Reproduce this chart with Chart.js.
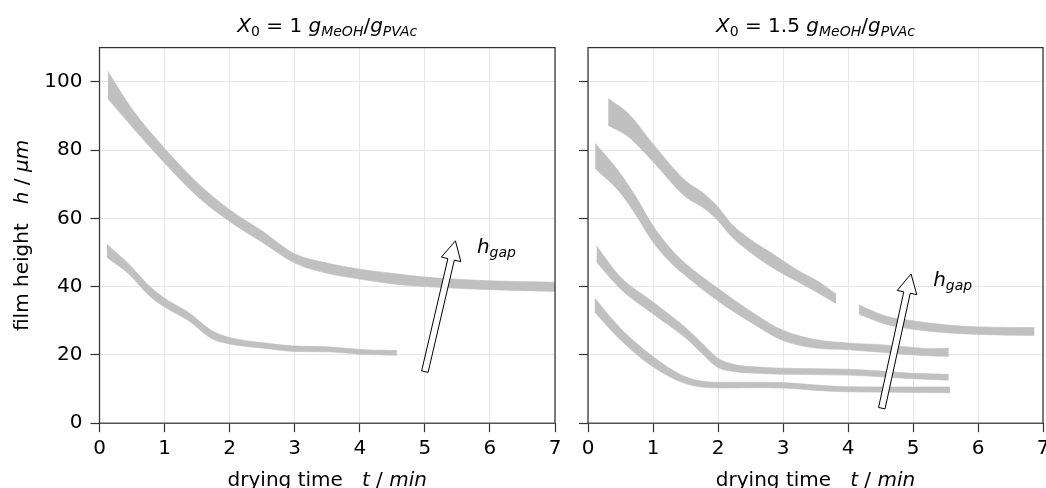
<!DOCTYPE html>
<html>
<head>
<meta charset="utf-8">
<script src="https://cdn.jsdelivr.net/npm/chart.js@4.4.1/dist/chart.umd.min.js"></script>
<style>
  html, body { margin: 0; padding: 0; background: #fff; overflow: hidden; }
  #wrap { position: relative; width: 1046px; height: 488px; overflow: hidden; }
  .panel { position: absolute; top: 0; }
  #left { left: 0; }
  #right { left: 570px; }
</style>
</head>
<body>
<div id="wrap">
  <div class="panel" id="left"><canvas id="c1" width="570" height="488"></canvas></div>
  <div class="panel" id="right"><canvas id="c2" width="490" height="488"></canvas></div>
</div>
<script>
// X0 = 1 gMeOH/gPVAc : two gap heights
const tLow1 = [0.11, 0.45, 0.76, 1.0, 1.37, 1.73, 2.0, 2.5, 3.0, 3.5, 4.0, 4.57];
const hLow1Top = [52.5, 46.6, 40.3, 36.6, 32.4, 27.1, 25.1, 23.6, 22.6, 22.4, 21.6, 21.3];
const hLow1Bot = [48.6, 43.7, 37.4, 34.0, 30.0, 24.7, 23.2, 22.0, 21.0, 20.9, 20.2, 19.9];

const tHigh1 = [0.13, 0.5, 1.0, 1.5, 2.0, 2.5, 3.0, 3.5, 4.0, 4.5, 5.0, 6.0, 7.0];
const hHigh1Top = [103, 92.0, 80.5, 70.5, 62.5, 56.3, 49.6, 46.9, 45.1, 43.9, 42.8, 41.7, 41.3];
const hHigh1Bot = [95, 86.8, 76.2, 66.5, 59.1, 53.0, 46.9, 43.9, 42.2, 40.8, 40.0, 39.1, 38.6];

// X0 = 1.5 gMeOH/gPVAc : four gap heights (the highest one has a hole around 4 min)
const tA = [0.31, 0.62, 1.0, 1.5, 1.78, 2.0, 2.2, 2.5, 2.85, 3.25, 3.5, 3.82];
const hATop = [95.1, 90.7, 81.8, 71.0, 67.3, 63.3, 58.5, 53.8, 49.5, 44.5, 42.0, 37.8];
const hABot = [87.2, 83.9, 76.6, 66.3, 63.0, 59.3, 54.8, 50.0, 45.4, 41.2, 38.6, 35.0];

const tA2 = [4.17, 4.58, 5.0, 5.5, 6.0, 6.87];
const hA2Top = [34.6, 31.4, 30.0, 28.8, 28.2, 28.0];
const hA2Bot = [31.9, 29.0, 27.5, 26.5, 26.0, 25.7];

const tB = [0.11, 0.46, 0.72, 1.0, 1.3, 1.5, 2.0, 2.5, 3.0, 3.5, 4.0, 4.5, 5.0, 5.3, 5.55];
const hBTop = [82.0, 74.1, 66.8, 57.8, 50.5, 46.8, 39.5, 32.8, 27.2, 24.5, 23.5, 23.0, 22.2, 21.8, 22.0];
const hBBot = [74.6, 68.3, 61.5, 53.0, 46.5, 43.2, 35.8, 29.6, 24.2, 22.0, 21.5, 20.8, 20.0, 19.7, 19.6];

const tC = [0.13, 0.5, 1.0, 1.5, 1.75, 2.0, 2.25, 2.5, 3.0, 4.0, 4.5, 5.0, 5.55];
const hCTop = [52.0, 42.8, 35.5, 28.0, 23.5, 19.0, 17.2, 16.6, 16.1, 15.8, 15.3, 14.6, 14.3];
const hCBot = [47.2, 39.3, 32.0, 25.0, 20.5, 16.3, 15.1, 14.7, 14.3, 14.1, 13.6, 13.0, 12.6];

const tD = [0.1, 0.5, 1.0, 1.5, 2.0, 2.5, 3.0, 3.5, 4.0, 5.0, 5.57];
const hDTop = [36.7, 27.8, 19.5, 13.6, 12.0, 12.0, 11.9, 11.2, 10.7, 10.6, 10.6];
const hDBot = [32.6, 24.4, 16.5, 11.6, 10.3, 10.4, 10.3, 9.6, 9.2, 9.0, 8.9];

// h_gap arrows (tail, head) and label anchors, in data units
const arrowTail1 = [5.0, 15.1], arrowHead1 = [5.47, 53.4], gapLabel1 = [5.8, 49.8];
const arrowTail2 = [4.52, 4.4], arrowHead2 = [4.97, 43.7], gapLabel2 = [5.31, 40.1];

const FONT = 'DejaVu Sans';
const FS = 20;
const bandColor = '#c0c0c0';
const gridColor = '#e6e6e6';
const spineColor = '#333';

function band(t, top, bot) {
  return [
    { data: t.map((x, i) => ({ x, y: top[i] })), fill: '+1', backgroundColor: bandColor,
      borderColor: bandColor, borderWidth: 0.6, pointRadius: 0 },
    { data: t.map((x, i) => ({ x, y: bot[i] })), fill: false,
      borderColor: bandColor, borderWidth: 0.6, pointRadius: 0 }
  ];
}

// text runs with italic / subscript pieces (mathtext-like)
function drawRich(ctx, parts, x, y, size, align) {
  const fontOf = p => (p.i ? 'italic ' : '') + (p.sub ? size * 0.7 : size) + 'px "' + FONT + '"';
  let w = 0;
  parts.forEach(p => { ctx.font = fontOf(p); w += ctx.measureText(p.t).width; });
  let cx = align === 'center' ? x - w / 2 : x;
  ctx.textAlign = 'left';
  ctx.textBaseline = 'alphabetic';
  parts.forEach(p => {
    ctx.font = fontOf(p);
    ctx.fillText(p.t, cx, y + (p.sub ? size * 0.2 : 0));
    cx += ctx.measureText(p.t).width;
  });
}

function drawArrow(ctx, x0, y0, x1, y1) {
  const len = Math.hypot(x1 - x0, y1 - y0);
  const dx = (x1 - x0) / len, dy = (y1 - y0) / len;
  const nx = -dy, ny = dx;
  const sw = 3.3, hw = 10, hl = 19;
  const bx = x1 - dx * hl, by = y1 - dy * hl;
  ctx.beginPath();
  ctx.moveTo(x0 + nx * sw, y0 + ny * sw);
  ctx.lineTo(bx + nx * sw, by + ny * sw);
  ctx.lineTo(bx + nx * hw, by + ny * hw);
  ctx.lineTo(x1, y1);
  ctx.lineTo(bx - nx * hw, by - ny * hw);
  ctx.lineTo(bx - nx * sw, by - ny * sw);
  ctx.lineTo(x0 - nx * sw, y0 - ny * sw);
  ctx.closePath();
  ctx.fillStyle = '#fff';
  ctx.fill();
  ctx.strokeStyle = '#000';
  ctx.lineWidth = 1;
  ctx.stroke();
}

const overlay = {
  id: 'overlay',
  afterDraw(chart, args, o) {
    const { ctx, chartArea: a, scales: { x, y } } = chart;
    ctx.save();
    ctx.strokeStyle = spineColor;
    ctx.lineWidth = 1.25;
    ctx.strokeRect(a.left, a.top, a.right - a.left, a.bottom - a.top);

    drawArrow(ctx, x.getPixelForValue(o.tail[0]), y.getPixelForValue(o.tail[1]),
      x.getPixelForValue(o.head[0]), y.getPixelForValue(o.head[1]));

    ctx.fillStyle = '#000';
    drawRich(ctx, [{ t: 'h', i: 1 }, { t: 'gap', i: 1, sub: 1 }],
      x.getPixelForValue(o.label[0]), y.getPixelForValue(o.label[1]), FS, 'left');

    const mid = (a.left + a.right) / 2;
    drawRich(ctx, o.title, mid, 32, FS, 'center');
    drawRich(ctx, [{ t: 'drying time   ' }, { t: 't', i: 1 }, { t: ' / ' }, { t: 'min', i: 1 }],
      mid, 486, FS, 'center');

    if (o.yTitle) {
      ctx.translate(28, (a.top + a.bottom) / 2);
      ctx.rotate(-Math.PI / 2);
      drawRich(ctx, [{ t: 'film height   ' }, { t: 'h', i: 1 }, { t: ' / ' }, { t: 'μm', i: 1 }],
        0, 0, FS, 'center');
    }
    ctx.restore();
  }
};

function panelOptions(yWidth, padRight, showY, extra) {
  const tickFont = { family: FONT, size: FS };
  return {
    responsive: false,
    animation: false,
    layout: { padding: { top: 47.6, right: padRight, left: 0, bottom: 0 } },
    plugins: { legend: { display: false }, tooltip: { enabled: false }, overlay: extra },
    elements: { line: { cubicInterpolationMode: 'monotone' } },
    scales: {
      x: {
        type: 'linear', min: 0, max: 7,
        afterFit: s => { s.height = 64.8; },
        ticks: { stepSize: 1, font: tickFont, color: '#000', padding: 5, maxRotation: 0, autoSkip: false },
        grid: { color: gridColor, tickColor: spineColor, tickLength: 9, tickWidth: 1.2 },
        border: { display: false }
      },
      y: {
        type: 'linear', min: 0, max: 110,
        afterFit: s => { s.width = yWidth; },
        ticks: { stepSize: 20, includeBounds: false, font: tickFont, color: '#000', padding: 8,
          callback: showY ? v => v : () => '' },
        grid: { color: gridColor, tickColor: spineColor, tickLength: 9, tickWidth: 1.2 },
        border: { display: false }
      }
    }
  };
}

const title1 = [{ t: 'X', i: 1 }, { t: '0', sub: 1 }, { t: ' = 1 ' }, { t: 'g', i: 1 }, { t: 'MeOH', i: 1, sub: 1 },
  { t: '/' }, { t: 'g', i: 1 }, { t: 'PVAc', i: 1, sub: 1 }];
const title2 = [{ t: 'X', i: 1 }, { t: '0', sub: 1 }, { t: ' = 1.5 ' }, { t: 'g', i: 1 }, { t: 'MeOH', i: 1, sub: 1 },
  { t: '/' }, { t: 'g', i: 1 }, { t: 'PVAc', i: 1, sub: 1 }];

new Chart(document.getElementById('c1'), {
  type: 'line',
  data: { datasets: [...band(tHigh1, hHigh1Top, hHigh1Bot), ...band(tLow1, hLow1Top, hLow1Bot)] },
  options: panelOptions(99.5, 15, true,
    { tail: arrowTail1, head: arrowHead1, label: gapLabel1, title: title1, yTitle: true }),
  plugins: [overlay]
});

new Chart(document.getElementById('c2'), {
  type: 'line',
  data: {
    datasets: [
      ...band(tA, hATop, hABot), ...band(tA2, hA2Top, hA2Bot),
      ...band(tB, hBTop, hBBot), ...band(tC, hCTop, hCBot), ...band(tD, hDTop, hDBot)
    ]
  },
  options: panelOptions(18, 17, false,
    { tail: arrowTail2, head: arrowHead2, label: gapLabel2, title: title2, yTitle: false }),
  plugins: [overlay]
});
</script>
</body>
</html>
